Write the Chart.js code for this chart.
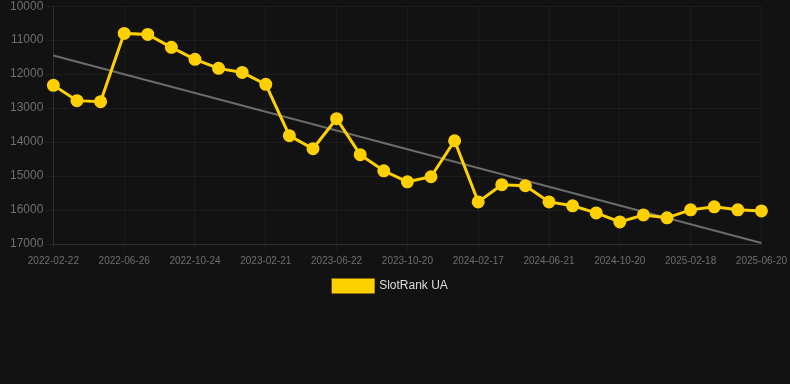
<!DOCTYPE html>
<html>
<head>
<meta charset="utf-8">
<script src="https://cdn.jsdelivr.net/npm/chart.js@4"></script>
<style>
html,body{margin:0;padding:0;background:#121212;width:790px;height:384px;overflow:hidden;}
#wrap{width:790px;height:305px;margin-top:-3px;}
</style>
</head>
<body>
<div id="wrap"><canvas id="c" width="790" height="305"></canvas></div>
<script>
const labels = [
  "2022-02-22","2022-04-04","2022-05-15","2022-06-26","2022-08-05","2022-09-14",
  "2022-10-24","2022-12-03","2023-01-12","2023-02-21","2023-04-02","2023-05-13",
  "2023-06-22","2023-08-01","2023-09-10","2023-10-20","2023-11-29","2024-01-08",
  "2024-02-17","2024-03-30","2024-05-10","2024-06-21","2024-07-31","2024-09-09",
  "2024-10-20","2024-11-29","2025-01-08","2025-02-18","2025-03-30","2025-05-10",
  "2025-06-20"
];
const rankValues = [
  12330,12780,12810,10800,10830,11210,11565,11830,11950,12300,
  13810,14195,13310,14370,14845,15170,15020,13960,15760,15255,
  15285,15760,15875,16085,16350,16145,16230,15995,15905,15995,16025
];
const trendStart = 11450;
const trendEnd = 16970;
const trendValues = labels.map((l, i) => i === 0 ? trendStart : (i === labels.length - 1 ? trendEnd : null));
const yTicks = [10000,11000,12000,13000,14000,15000,16000,17000];

new Chart(document.getElementById('c'), {
  type: 'line',
  data: {
    labels: labels,
    datasets: [
      {
        label: 'SlotRank UA',
        data: rankValues,
        borderColor: '#FFD000',
        backgroundColor: '#FFD000',
        borderWidth: 3,
        pointRadius: 5,
        pointHoverRadius: 5,
        pointBackgroundColor: '#FFD000',
        pointBorderColor: '#FFD000',
        tension: 0,
        order: 1
      },
      {
        label: 'trend',
        data: trendValues,
        spanGaps: true,
        borderColor: '#6b6b6b',
        borderWidth: 2,
        pointRadius: 0,
        fill: false,
        order: 2
      }
    ]
  },
  options: {
    responsive: false,
    animation: false,
    layout: { padding: { left: 8, right: 17, top: 0, bottom: 0 } },
    plugins: {
      legend: {
        position: 'bottom',
        labels: {
          color: '#dddddd',
          font: { family: 'Arial, "Liberation Sans", sans-serif', size: 12 },
          boxWidth: 40,
          boxHeight: 12,
          padding: 10,
          filter: (item) => item.text !== 'trend'
        }
      },
      tooltip: { enabled: false }
    },
    scales: {
      x: {
        offset: false,
        grid: { color: 'rgba(255,255,255,0.045)', tickLength: 8 },
        border: { color: 'rgba(255,255,255,0.08)' },
        ticks: {
          color: '#6e6e6e',
          font: { family: 'Arial, "Liberation Sans", sans-serif', size: 10 },
          autoSkip: false,
          maxRotation: 0,
          callback: function(v, i) { return i % 3 === 0 ? labels[i] : null; }
        }
      },
      y: {
        reverse: true,
        min: 10000,
        max: 17000,
        afterBuildTicks: (scale) => { scale.ticks = yTicks.map(v => ({ value: v })); },
        grid: { color: 'rgba(255,255,255,0.045)', tickLength: 8 },
        border: { color: 'rgba(255,255,255,0.08)' },
        ticks: {
          color: '#6e6e6e',
          font: { family: 'Arial, "Liberation Sans", sans-serif', size: 12 },
          padding: 2,
          callback: (v) => String(v)
        }
      }
    }
  }
});
</script>
</body>
</html>
